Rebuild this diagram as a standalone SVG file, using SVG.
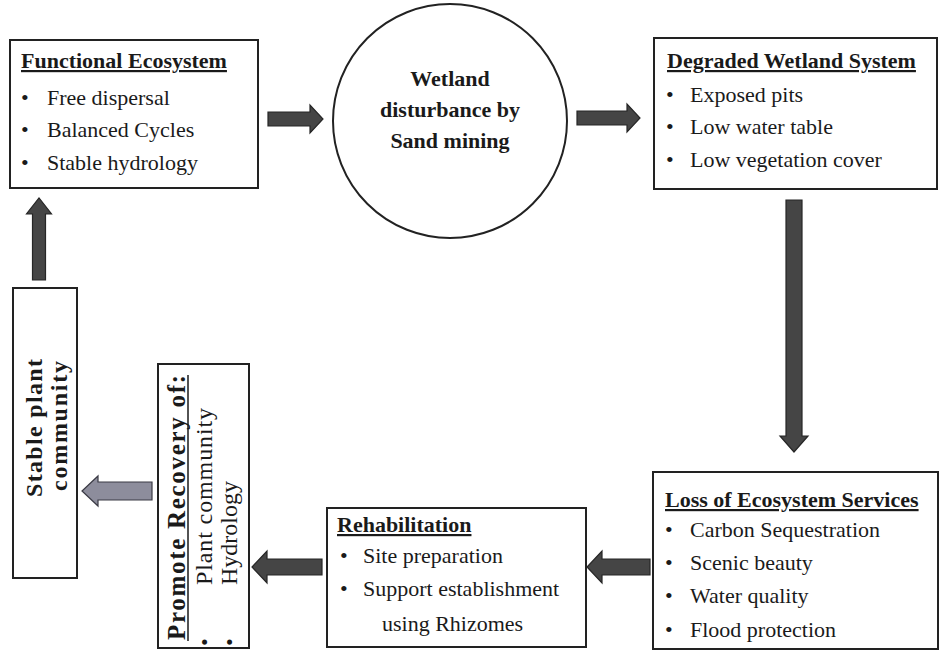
<svg xmlns="http://www.w3.org/2000/svg" width="940" height="651" viewBox="0 0 940 651">
<style>
.box{fill:#fff;stroke:#222;stroke-width:2}
.t{font-family:"Liberation Serif","Times New Roman",serif;font-size:22px;fill:#1a1a1a}
.b{font-weight:bold}
.u{text-decoration:underline}
.ul{stroke:#1a1a1a;stroke-width:1.5}
.arr{fill:#454545;stroke:#262626;stroke-width:1.2}
.arr2{fill:#8d8d9c;stroke:#3a3a44;stroke-width:1.2}
</style>
<rect width="940" height="651" fill="#fff"/>
<g id="functional">
<rect class="box" x="10" y="40" width="248" height="148"/>
<text class="t b u" x="21" y="68">Functional Ecosystem</text>
<text class="t" x="21" y="105">•</text><text class="t" x="47" y="105">Free dispersal</text>
<text class="t" x="21" y="137">•</text><text class="t" x="47" y="137">Balanced Cycles</text>
<text class="t" x="21" y="170">•</text><text class="t" x="47" y="170">Stable hydrology</text>
</g>
<g id="disturbance">
<circle cx="450" cy="121" r="117" fill="#fff" stroke="#222" stroke-width="2"/>
<text class="t b" x="450" y="86" text-anchor="middle">Wetland</text>
<text class="t b" x="450" y="117" text-anchor="middle">disturbance by</text>
<text class="t b" x="450" y="148" text-anchor="middle">Sand mining</text>
</g>
<g id="degraded">
<rect class="box" x="654" y="38" width="283" height="151"/>
<text class="t b u" x="667" y="68">Degraded Wetland System</text>
<text class="t" x="666" y="102">•</text><text class="t" x="690" y="102">Exposed pits</text>
<text class="t" x="666" y="134">•</text><text class="t" x="690" y="134">Low water table</text>
<text class="t" x="666" y="167">•</text><text class="t" x="690" y="167">Low vegetation cover</text>
</g>
<g id="loss">
<rect class="box" x="653" y="472" width="285" height="177"/>
<text class="t b u" x="665" y="507">Loss of Ecosystem Services</text>
<text class="t" x="665" y="537">•</text><text class="t" x="690" y="537">Carbon Sequestration</text>
<text class="t" x="665" y="570">•</text><text class="t" x="690" y="570">Scenic  beauty</text>
<text class="t" x="665" y="603">•</text><text class="t" x="690" y="603">Water quality</text>
<text class="t" x="665" y="637">•</text><text class="t" x="690" y="637">Flood protection</text>
</g>
<g id="rehabilitation">
<rect class="box" x="327" y="508" width="259" height="139"/>
<text class="t b u" x="337" y="532">Rehabilitation</text>
<text class="t" x="340" y="563">•</text><text class="t" x="363" y="563">Site preparation</text>
<text class="t" x="340" y="596">•</text><text class="t" x="363" y="596">Support establishment</text>
<text class="t" x="382" y="631">using Rhizomes</text>
</g>
<g id="promote">
<rect class="box" x="158" y="364" width="91" height="284"/>
<text class="t b" transform="translate(185,640) rotate(-90)" style="font-size:25px" textLength="265" lengthAdjust="spacing">Promote Recovery of:</text>
<line class="ul" x1="188" y1="641" x2="188" y2="375"/>
<text class="t" transform="translate(212,646) rotate(-90)">•</text>
<text class="t" transform="translate(212,585) rotate(-90)" style="font-size:24px" textLength="177" lengthAdjust="spacing">Plant community</text>
<text class="t" transform="translate(237,646) rotate(-90)">•</text>
<text class="t" transform="translate(237,585) rotate(-90)" style="font-size:24px">Hydrology</text>
</g>
<g id="stable">
<rect class="box" x="13" y="288" width="64" height="290"/>
<text class="t b" transform="translate(42,428) rotate(-90)" text-anchor="middle" style="font-size:24px" textLength="138" lengthAdjust="spacing">Stable plant</text>
<text class="t b" transform="translate(67,426) rotate(-90)" text-anchor="middle" style="font-size:24px" textLength="130" lengthAdjust="spacing">community</text>
</g>
<g id="connectors">
<polygon class="arr" points="268,112 310,112 310,105 323,119 310,133 310,126 268,126"/>
<polygon class="arr" points="577,111 627,111 627,104 640,118 627,132 627,125 577,125"/>
<polygon class="arr" points="786,200 802,200 802,436 808,436 794,452 780,436 786,436"/>
<polygon class="arr" points="650,559 602,559 602,551 587,567 602,583 602,575 650,575"/>
<polygon class="arr" points="322,559 267,559 267,551 252,567 267,583 267,575 322,575"/>
<polygon class="arr2" points="152,482 98,482 98,476 82,491 98,506 98,500 152,500"/>
<polygon class="arr" points="32.5,280 45.5,280 45.5,214 51.5,214 39,198 26.5,214 32.5,214"/>
</g>
</svg>
